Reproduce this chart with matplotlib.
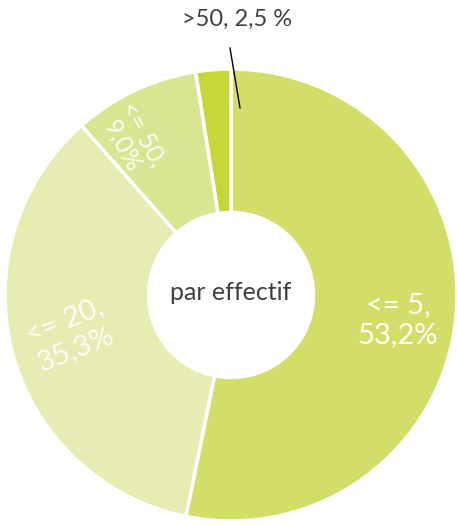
import matplotlib.pyplot as plt
import numpy as np

plt.rcParams['font.family'] = ['Lato', 'DejaVu Sans']

# data
categories = ['<= 5', '<= 20', '<= 50', '>50']
shares = [53.2, 35.3, 9.0, 2.5]
labels = ['<= 5,\n53,2%', '<= 20,\n35,3%', '<= 50,\n9,0%', '>50, 2,5 %']
colors = ['#d3de68', '#e6ecb2', '#dae593', '#c6d637']

W, H = 457, 525
fig = plt.figure(figsize=(W / 100, H / 100), dpi=100)
ax = fig.add_axes([0, 0, 1, 1])

cx, cy, r = 231, 230, 226
wedges, _ = ax.pie(shares, colors=colors, startangle=90, counterclock=False,
                   center=(cx, cy), radius=r, frame=True,
                   wedgeprops=dict(width=r * 0.635, edgecolor='white', linewidth=2.5))
ax.set_xlim(0, W)
ax.set_ylim(0, H)
ax.axis('off')

# labels inside the ring
ax.text(398, 205, labels[0], color='white', fontsize=21, ha='center', va='center',
        linespacing=1.2, alpha=0.95)
ax.text(70, 190, labels[1], color='white', fontsize=21, ha='center', va='center',
        rotation=22, linespacing=1.2, alpha=0.9)
ax.text(133, 385, labels[2], color='white', fontsize=18, ha='center', va='center',
        rotation=-62, linespacing=1.05, alpha=0.9)

# center label
ax.text(cx, cy + 3, 'par effectif', color='#404040', fontsize=18, ha='center', va='center')

# outside label with leader line
ax.text(237, 506, labels[3], color='#404040', fontsize=17, ha='center', va='center')
ax.plot([230, 240], [477, 417], color='black', linewidth=1)

fig.savefig('out.png', dpi=100)
